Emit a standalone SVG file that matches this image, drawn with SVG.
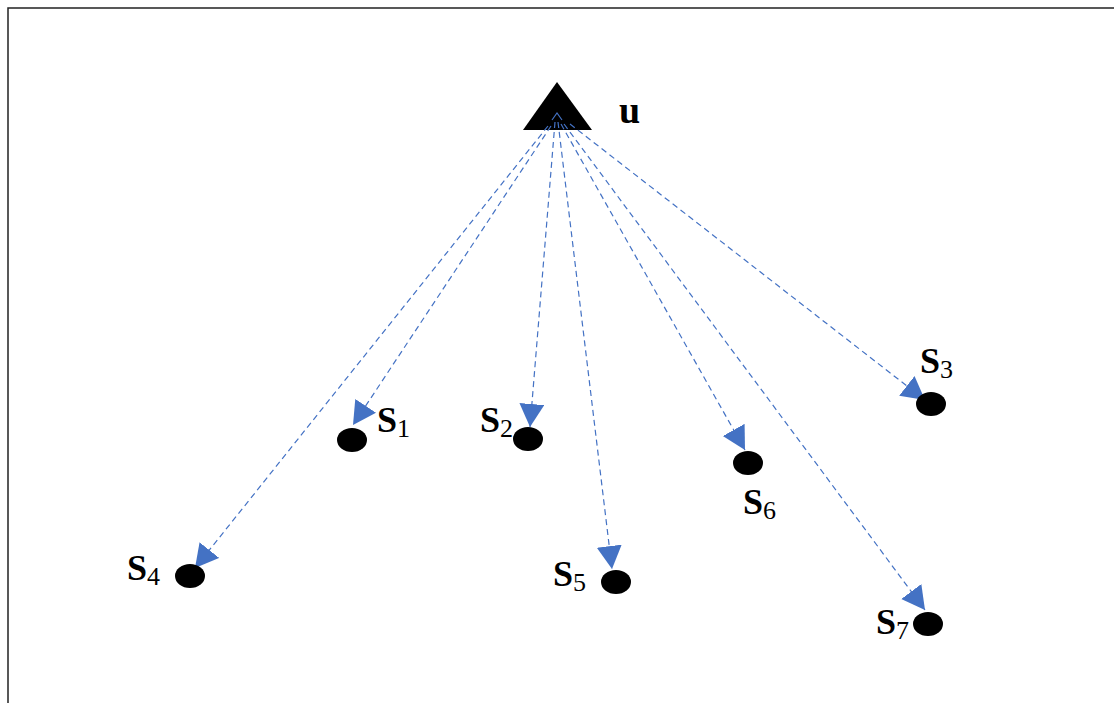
<svg xmlns="http://www.w3.org/2000/svg" width="1114" height="703" viewBox="0 0 1114 703">
  <style>
    .frame { stroke: #222; stroke-width: 1.5; fill: none; }
    .link { stroke: #4472C4; stroke-width: 1.2; stroke-dasharray: 6 4; fill: none; marker-end: url(#arr); }
    .dot { fill: #000; }
    .lbl { font-family: "Liberation Serif", "Times New Roman", serif; font-weight: bold; font-size: 36px; fill: #000; }
    .sub { font-family: "Liberation Serif", "Times New Roman", serif; font-weight: normal; font-size: 26px; fill: #000; }
  </style>
  <defs>
    <marker id="arr" markerUnits="userSpaceOnUse" markerWidth="26" markerHeight="26" refX="23" refY="12.5" orient="auto">
      <path d="M0,0 L23,12.5 L0,25 z" fill="#4472C4"/>
    </marker>
  </defs>
  <rect width="1114" height="703" fill="#fff"/>
  <path class="frame" d="M8,703 L8,8 L1114,8"/>

  <g id="u">
    <polygon points="557,82 523,130 592,130" fill="#000"/>
    <text class="lbl" x="619" y="123" style="font-size:38px">u</text>
  </g>

  <g id="connectors">
    <path d="M548,126 L195,568" class="link"/>
    <path d="M551,126 L353,425" class="link"/>
    <path d="M555,122 L530,427" class="link"/>
    <path d="M558,122 L612,569" class="link"/>
    <path d="M561,124 L745,450" class="link"/>
    <path d="M564,124 L925,610" class="link"/>
    <path d="M570,124 L925,400" class="link"/>
    <path d="M552,120 L557,113 L562,120" stroke="#4472C4" stroke-width="1.2" fill="none"/>
  </g>

  <g id="S1">
    <ellipse class="dot" cx="352" cy="440" rx="15" ry="12"/>
    <text class="lbl" x="377" y="432">S<tspan class="sub" dy="5">1</tspan></text>
  </g>
  <g id="S2">
    <ellipse class="dot" cx="528" cy="439" rx="15" ry="12"/>
    <text class="lbl" x="480" y="432">S<tspan class="sub" dy="5">2</tspan></text>
  </g>
  <g id="S3">
    <ellipse class="dot" cx="931" cy="404" rx="15" ry="12"/>
    <text class="lbl" x="920" y="373">S<tspan class="sub" dy="5">3</tspan></text>
  </g>
  <g id="S4">
    <ellipse class="dot" cx="190" cy="576" rx="15" ry="12"/>
    <text class="lbl" x="127" y="580">S<tspan class="sub" dy="5">4</tspan></text>
  </g>
  <g id="S5">
    <ellipse class="dot" cx="616" cy="582" rx="15" ry="12"/>
    <text class="lbl" x="553" y="586">S<tspan class="sub" dy="5">5</tspan></text>
  </g>
  <g id="S6">
    <ellipse class="dot" cx="748" cy="463" rx="15" ry="12"/>
    <text class="lbl" x="743" y="514">S<tspan class="sub" dy="5">6</tspan></text>
  </g>
  <g id="S7">
    <ellipse class="dot" cx="928" cy="624" rx="15" ry="12"/>
    <text class="lbl" x="876" y="634">S<tspan class="sub" dy="5">7</tspan></text>
  </g>
</svg>
